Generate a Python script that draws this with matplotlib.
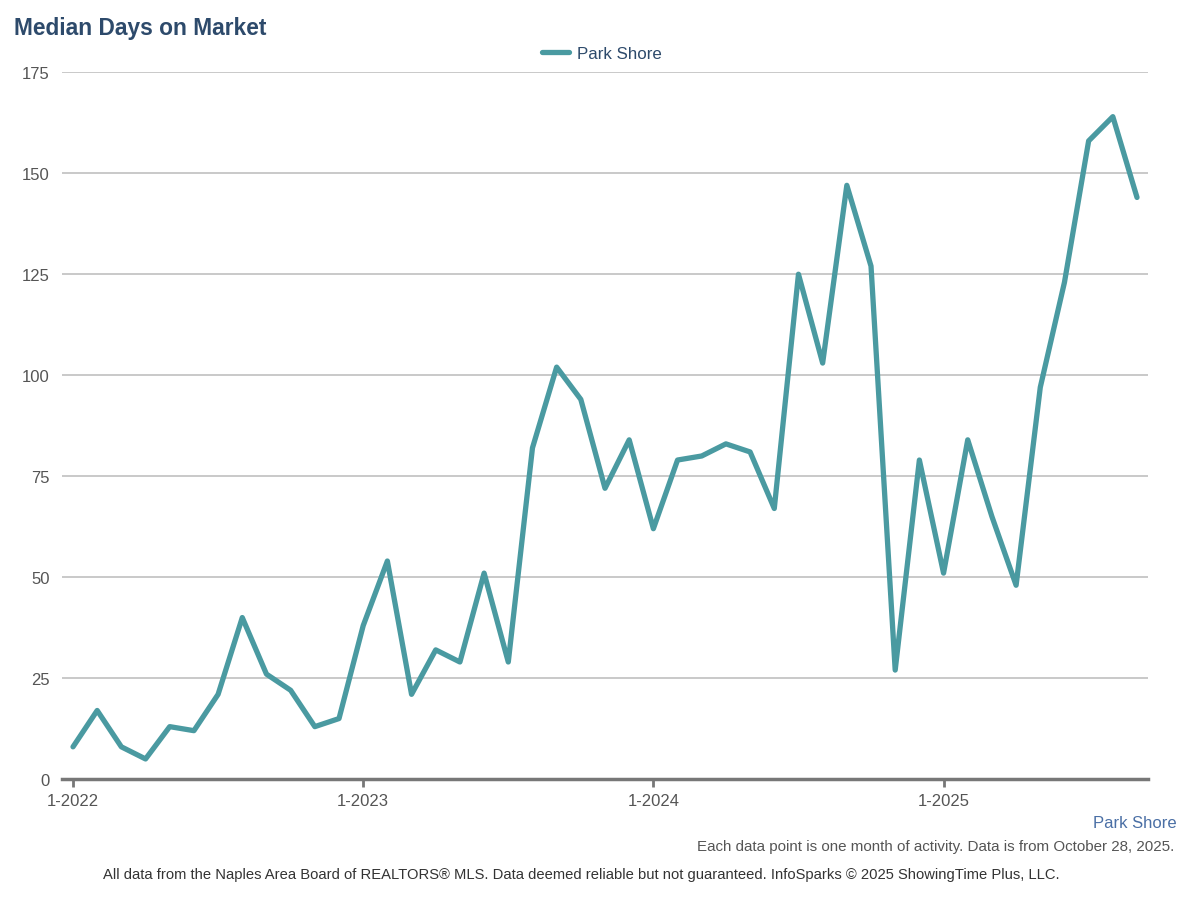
import numpy as np
import matplotlib
matplotlib.use('Agg')
import matplotlib.pyplot as plt

# ---- data: Jan 2022 .. Sep 2025, one point per month ----
months = list(range(45))
days_on_market = [8, 17, 8, 5, 13, 12, 21, 40, 26, 22, 13, 15,
                  38, 54, 21, 32, 29, 51, 29, 82, 102, 94, 72, 84,
                  62, 79, 80, 83, 81, 67, 125, 103, 147, 127, 27, 79,
                  51, 84, 65, 48, 97, 123, 158, 164, 144]
tick_pos = [0, 12, 24, 36]
tick_labels = ['1-2022', '1-2023', '1-2024', '1-2025']
y_ticks = [0, 25, 50, 75, 100, 125, 150, 175]

plt.rcParams['font.family'] = ['Liberation Sans', 'DejaVu Sans']

line_color = '#4a9aa1'
text_grey = '#555555'

fig = plt.figure(figsize=(12.04, 9.04), dpi=100)
ax = fig.add_axes([0.0515, 0.137, 0.902, 0.782])

ax.plot(months, days_on_market, color=line_color, linewidth=3.8,
        solid_joinstyle='round', solid_capstyle='round',
        label='Park Shore', zorder=3)

ax.set_xlim(-0.455, 44.455)
ax.set_ylim(0, 175)
ax.set_yticks(y_ticks)
ax.set_xticks(tick_pos)
ax.set_xticklabels(tick_labels)
ax.yaxis.grid(True, color='#c0c0c0', linewidth=1.2)
ax.set_axisbelow(True)

for s in ['top', 'right', 'left']:
    ax.spines[s].set_visible(False)
ax.spines['bottom'].set_color('#777777')
ax.spines['bottom'].set_linewidth(2.5)
ax.spines['bottom'].set_zorder(4)

ax.tick_params(axis='y', length=0, pad=9, labelsize=12, labelcolor=text_grey)
ax.tick_params(axis='x', length=6, width=2, color='#777777', pad=4,
               labelsize=12, labelcolor=text_grey)

fig.text(0.012, 0.968, 'Median Days on Market', fontsize=16.4, fontweight='bold',
         color='#2d4a6b', ha='left', va='center')

leg = fig.legend(loc='center', bbox_to_anchor=(0.5, 0.94), frameon=False,
                 fontsize=12.2, handlelength=1.6, handletextpad=0.5)
for t in leg.get_texts():
    t.set_color('#2d4a6b')

fig.text(0.977, 0.089, 'Park Shore', fontsize=12, color='#4a6fa5',
         ha='right', va='center')
fig.text(0.975, 0.063, 'Each data point is one month of activity. Data is from October 28, 2025.',
         fontsize=10.9, color=text_grey, ha='right', va='center')
fig.text(0.483, 0.032, 'All data from the Naples Area Board of REALTORS\u00ae MLS. Data deemed reliable but not guaranteed. InfoSparks \u00a9 2025 ShowingTime Plus, LLC.',
         fontsize=10.65, color='#333333', ha='center', va='center')

fig.savefig('out.png', dpi=100)
